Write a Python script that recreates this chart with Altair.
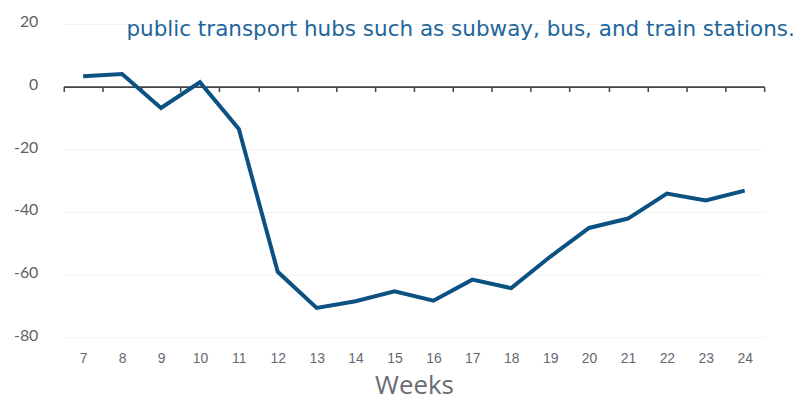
import altair as alt
import pandas as pd

weeks = [7, 8, 9, 10, 11, 12, 13, 14, 15, 16, 17, 18, 19, 20, 21, 22, 23, 24]
values = [3.3, 4.0, -6.8, 1.4, -13.5, -59.1, -70.6, -68.5, -65.3, -68.3, -61.6, -64.3, -54.3, -45.1, -42.1, -34.1, -36.3, -33.2]
y_ticks = [-80, -60, -40, -20, 0, 20]
title_text = "public transport hubs such as subway, bus, and train stations."

df = pd.DataFrame({"week": weeks, "value": values})

x_scale = alt.Scale(domain=[6.5, 24.5], nice=False, zero=False)
y_scale = alt.Scale(domain=[-80, 20], nice=False)

line = alt.Chart(df).mark_line(color="#0b5182", strokeWidth=4).encode(
    x=alt.X("week:Q", scale=x_scale,
            axis=alt.Axis(values=weeks, format="d", title="Weeks", domain=False, ticks=False,
                          grid=False, labelFont="Liberation Sans", labelFontSize=14,
                          labelColor="#666670", labelPadding=14, titleFont="Open Sans",
                          titleFontSize=26, titleFontWeight="normal", titleColor="#6b6b75",
                          titlePadding=7)),
    y=alt.Y("value:Q", scale=y_scale,
            axis=alt.Axis(values=y_ticks, title=None, domain=False, ticks=False,
                          grid=True, gridColor="#f3f3f3", gridWidth=1,
                          labelExpr="toString(datum.value)",
                          labelFont="Lato", labelFontSize=16, labelColor="#5f5f66",
                          labelPadding=26, labelOffset=-2)),
)

bounds = [w - 0.5 for w in weeks] + [weeks[-1] + 0.5]

zero_axis = alt.Chart(df).mark_rule(opacity=0).encode(
    x=alt.X("week:Q", scale=x_scale,
            axis=alt.Axis(values=bounds, labels=False, title=None, grid=False, orient="bottom",
                          domain=True, domainColor="#444448", domainWidth=1.6,
                          ticks=True, tickColor="#444448", tickWidth=1.5, tickSize=5,
                          offset=-252)),
    y=alt.Y("value:Q", scale=y_scale),
)

title = alt.Chart(pd.DataFrame({"t": [title_text]})).mark_text(
    align="left", baseline="alphabetic", font="DejaVu Sans", fontSize=21.6, color="#21669a"
).encode(text="t:N", x=alt.value(63), y=alt.value(12))

chart = alt.layer(line, zero_axis, title).resolve_axis(x="independent").properties(
    width=704,
    height=315,
    padding={"left": 56, "top": 15, "right": 32, "bottom": 65},
    autosize=alt.AutoSizeParams(type="none"),
).configure_view(stroke=None)

chart.save("out.html", embed_options={"renderer": "svg", "actions": False})
